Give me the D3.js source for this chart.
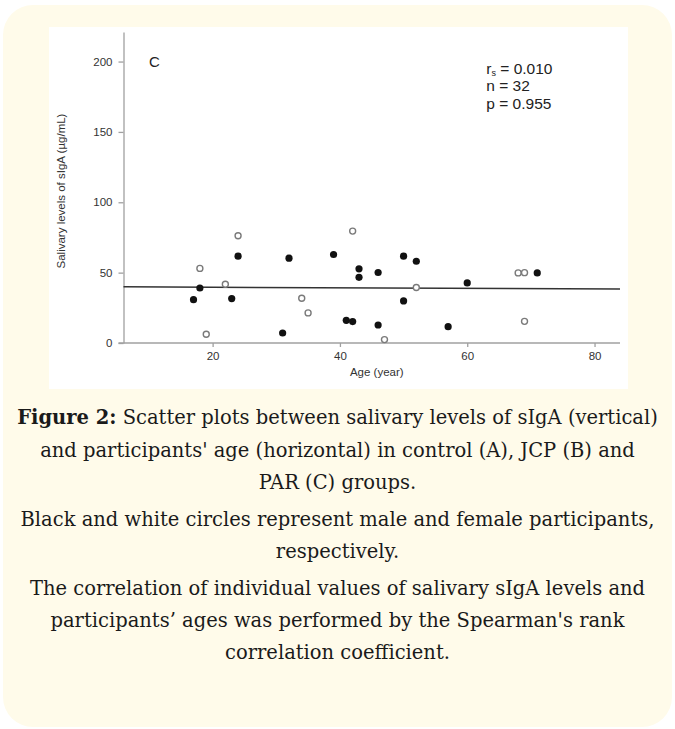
<!DOCTYPE html>
<html>
<head>
<meta charset="utf-8">
<script src="https://cdn.jsdelivr.net/npm/d3@7"></script>
<style>
  body { margin: 0; background: #fff; }
  svg { display: block; }
</style>
</head>
<body>
<svg width="675" height="729"></svg>
<script>
// males are black dots, females white dots (age in years, sIgA in ug/mL)
var maleAge = [17, 18, 23, 24, 31, 32, 39, 41, 42, 43, 43, 46, 46, 50, 50, 52, 57, 60, 71];
var maleIgA = [30.8, 39.1, 31.6, 61.7, 7.1, 60.3, 62.9, 16.1, 15.2, 52.7, 46.7, 50.1, 12.8, 61.7, 29.9, 58.1, 11.6, 42.7, 49.8];
var femaleAge = [18, 19, 22, 24, 34, 35, 42, 47, 52, 68, 69, 69];
var femaleIgA = [53, 6.2, 41.8, 76.2, 31.8, 21.4, 79.5, 2.4, 39.4, 49.8, 50, 15.4];
// fitted line, read at both ends of the x axis
var fitAge = [6, 84];
var fitIgA = [39.9, 38.4];
var xTicks = [20, 40, 60, 80];
var yTicks = [0, 50, 100, 150, 200];
var panelLabel = "C";
var statLines = ["= 0.010", "n = 32", "p = 0.955"];
var caption = [
  ["Figure 2:", " Scatter plots between salivary levels of sIgA (vertical)"],
  ["", "and participants' age (horizontal) in control (A), JCP (B) and"],
  ["", "PAR (C) groups."],
  ["", "Black and white circles represent male and female participants,"],
  ["", "respectively."],
  ["", "The correlation of individual values of salivary sIgA levels and"],
  ["", "participants\u2019 ages was performed by the Spearman's rank"],
  ["", "correlation coefficient."]
];
var captionY = [424, 457, 489, 526, 558, 595, 627, 659];

var svg = d3.select("svg");

// cream card + white figure
svg.append("rect")
    .attr("x", 3).attr("y", 5).attr("width", 669).attr("height", 722)
    .attr("rx", 30).attr("fill", "#fffbea");
svg.append("rect")
    .attr("x", 49).attr("y", 27).attr("width", 579).attr("height", 362)
    .attr("fill", "#fff");

var x = d3.scaleLinear().domain([6, 84]).range([123.5, 620]);
var y = d3.scaleLinear().domain([0, 221]).range([343, 32]);

var xAxis = g => g
    .attr("transform", `translate(0,${y(0)})`)
    .call(d3.axisBottom(x).tickValues(xTicks).tickSize(4).tickPadding(5).tickSizeOuter(0))
    .call(g => g.select(".domain").attr("d", `M${x.range()[0] - 5},0H${x.range()[1]}`));
var yAxis = g => g
    .attr("transform", `translate(${x(6)},0)`)
    .call(d3.axisLeft(y).tickValues(yTicks).tickSize(5).tickPadding(6).tickSizeOuter(0));

svg.append("g").call(xAxis);
svg.append("g").call(yAxis);
svg.selectAll(".domain, .tick line").attr("stroke", "#a0a0a0").attr("stroke-width", 1.3);
svg.selectAll(".tick text")
    .attr("fill", "#333")
    .attr("font-family", "Liberation Sans, Arial, sans-serif")
    .attr("font-size", 11.5);

svg.append("text")
    .attr("x", (x.range()[0] + x.range()[1]) / 2 + 5)
    .attr("y", y(0) + 33)
    .attr("text-anchor", "middle")
    .attr("font-family", "Liberation Sans, Arial, sans-serif")
    .attr("font-size", 11.5)
    .attr("fill", "#333")
    .text("Age (year)");

svg.append("text")
    .attr("transform", `translate(65,${y(108)}) rotate(-90)`)
    .attr("text-anchor", "middle")
    .attr("font-family", "Liberation Sans, Arial, sans-serif")
    .attr("font-size", 11.5)
    .attr("fill", "#333")
    .text("Salivary levels of sIgA (\u00b5g/mL)");

// regression line
var line = d3.line()
    .x(d => x(d[0]))
    .y(d => y(d[1]));
svg.append("path")
    .datum(d3.zip(fitAge, fitIgA))
    .attr("fill", "none")
    .attr("stroke", "#333")
    .attr("stroke-width", 1.5)
    .attr("d", line);

svg.append("g")
  .selectAll("circle")
  .data(d3.zip(femaleAge, femaleIgA))
  .join("circle")
    .attr("cx", d => x(d[0]))
    .attr("cy", d => y(d[1]))
    .attr("r", 3)
    .attr("fill", "#fff")
    .attr("stroke", "#7a7a7a")
    .attr("stroke-width", 1.4);

svg.append("g")
  .selectAll("circle")
  .data(d3.zip(maleAge, maleIgA))
  .join("circle")
    .attr("cx", d => x(d[0]))
    .attr("cy", d => y(d[1]))
    .attr("r", 3.6)
    .attr("fill", "#111");

// panel letter and stats
var annot = svg.append("g")
    .attr("font-family", "Liberation Sans, Arial, sans-serif")
    .attr("fill", "#222");
annot.append("text")
    .attr("x", x(10))
    .attr("y", y(200) + 5)
    .attr("font-size", 15)
    .text(panelLabel);

var st = annot.append("text")
    .attr("x", x(63))
    .attr("y", y(191))
    .attr("font-size", 15.5);
st.append("tspan").text("r");
st.append("tspan").attr("font-size", 9).attr("dy", 2).text("s");
st.append("tspan").attr("dy", -2).text(" " + statLines[0]);
statLines.slice(1).forEach((s, i) => {
  annot.append("text")
      .attr("x", x(63))
      .attr("y", y(191) + 17 + i * 18)
      .attr("font-size", 15.5)
      .text(s);
});

// caption
var cap = svg.append("g")
    .attr("font-family", "DejaVu Serif, serif")
    .attr("font-size", 19.5)
    .attr("fill", "#1a1a1a")
    .attr("text-anchor", "middle");
caption.forEach((c, i) => {
  var t = cap.append("text").attr("x", 337.5).attr("y", captionY[i]);
  if (c[0]) t.append("tspan").attr("font-weight", "bold").text(c[0]);
  t.append("tspan").text(c[1]);
});
</script>
</body>
</html>
